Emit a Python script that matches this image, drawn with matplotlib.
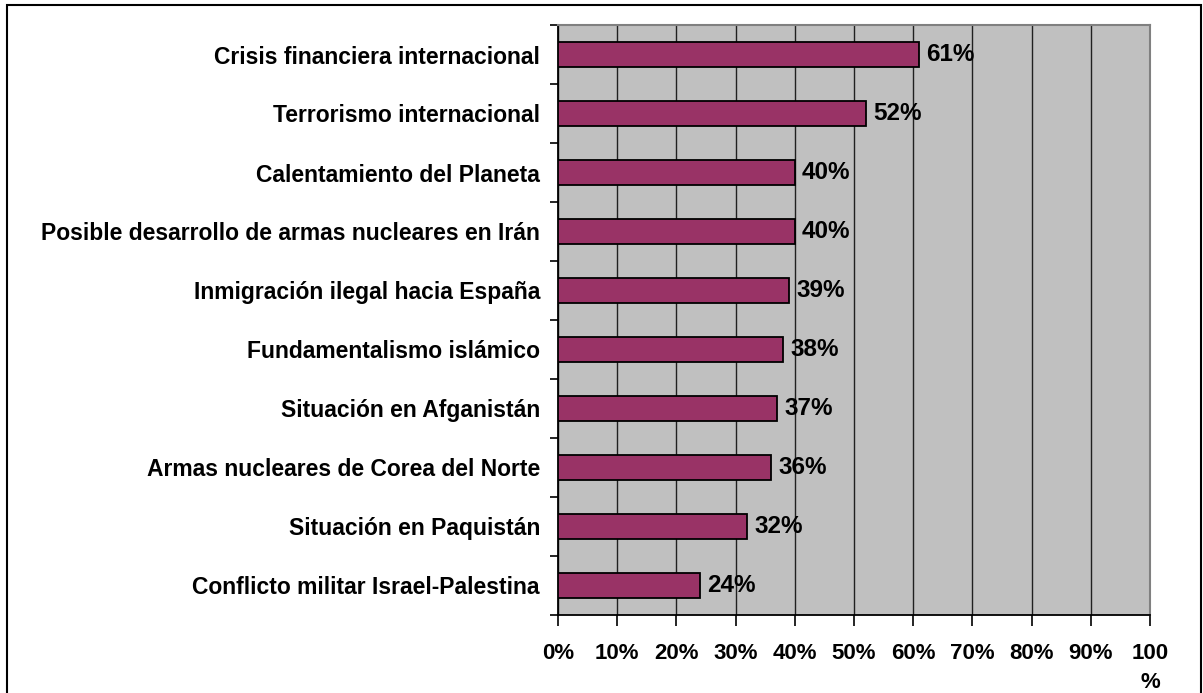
import numpy as np
import matplotlib.pyplot as plt
from matplotlib.patches import Rectangle
from matplotlib.ticker import FixedLocator

categories = ['Crisis financiera internacional', 'Terrorismo internacional',
              'Calentamiento del Planeta',
              'Posible desarrollo de armas nucleares en Irán',
              'Inmigración ilegal hacia España', 'Fundamentalismo islámico',
              'Situación en Afganistán', 'Armas nucleares de Corea del Norte',
              'Situación en Paquistán', 'Conflicto militar Israel-Palestina']
values = [61, 52, 40, 40, 39, 38, 37, 36, 32, 24]
xticks = [0, 10, 20, 30, 40, 50, 60, 70, 80, 90, 100]
xtick_labels = ['0%', '10%', '20%', '30%', '40%', '50%', '60%', '70%', '80%', '90%', '100\n%']

plt.rcParams['font.family'] = ['Liberation Sans', 'DejaVu Sans']

fig = plt.figure(figsize=(12.03, 6.93), dpi=100)
ax = fig.add_axes([558 / 1203, 1 - 615 / 693, 592 / 1203, 590 / 693])
ax.set_facecolor('#c0c0c0')

y = np.arange(len(categories))
ax.barh(y, values, height=0.43, color='#993366', edgecolor='black', linewidth=1.3, zorder=3)
for yi, v in zip(y, values):
    ax.text(v + 1.2, yi, f'{v}%', va='center', ha='left', fontsize=17.5,
            fontweight='bold', zorder=4)

ax.set_xlim(0, 100)
ax.set_ylim(len(categories) - 0.5, -0.5)
ax.set_xticks(xticks)
ax.set_xticklabels(xtick_labels, fontsize=16, fontweight='bold', linespacing=1.5, va='top')
ax.set_yticks(y)
ax.set_yticklabels(categories, fontsize=16.5, fontweight='bold')
ax.yaxis.set_minor_locator(FixedLocator(np.arange(-0.5, len(categories), 1)))
ax.tick_params(axis='y', which='major', length=0, pad=13)
ax.tick_params(axis='y', which='minor', length=6, width=1.2, direction='out')
ax.tick_params(axis='x', length=8, width=1.2, direction='out', pad=12)
ax.grid(axis='x', color='#202020', linewidth=1, zorder=1)
ax.set_axisbelow(True)
ax.spines['left'].set_linewidth(1.3)
ax.spines['bottom'].set_linewidth(1.3)
ax.spines['top'].set_color('#808080')
ax.spines['right'].set_color('#808080')
ax.spines['top'].set_linewidth(1.5)
ax.spines['right'].set_linewidth(1.5)

fig.patches.append(Rectangle((7 / 1203, -0.01), 1194 / 1203, 1 - 5 / 693 + 0.01,
                             transform=fig.transFigure, fill=False,
                             edgecolor='black', linewidth=1.5))

fig.savefig('out.png', dpi=100)
